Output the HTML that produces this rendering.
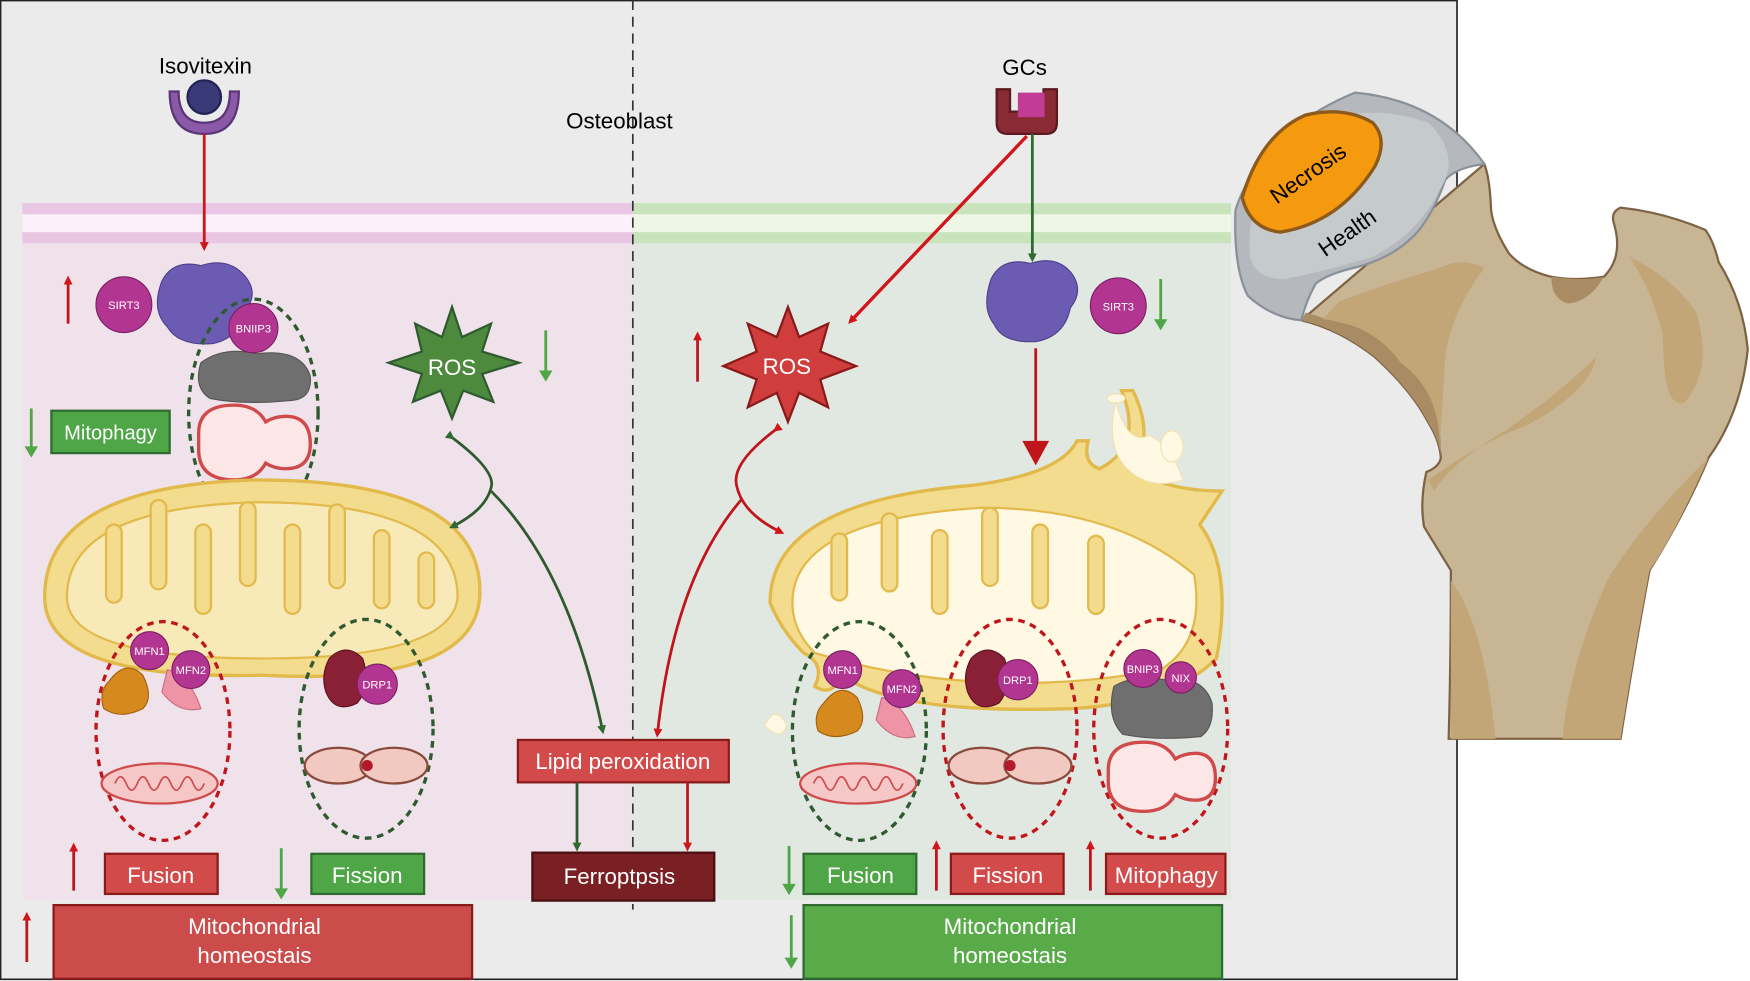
<!DOCTYPE html>
<html><head><meta charset="utf-8"><style>
html,body{margin:0;padding:0;background:#fff;width:1750px;height:981px;overflow:hidden}
svg{display:block}
text{font-family:"Liberation Sans",sans-serif}
</style></head><body>
<svg width="1750" height="981" viewBox="0 0 1568 879" xmlns="http://www.w3.org/2000/svg">
<defs>
<marker id="ar" markerWidth="8" markerHeight="8" refX="5" refY="4" orient="auto" markerUnits="userSpaceOnUse" viewBox="0 0 8 8"><path d="M0,0 L8,4 L0,8z" fill="#d0161b"/></marker>
<marker id="ag" markerWidth="8" markerHeight="8" refX="5" refY="4" orient="auto" markerUnits="userSpaceOnUse" viewBox="0 0 8 8"><path d="M0,0 L8,4 L0,8z" fill="#2f6a30"/></marker>
<g id="mitoS"><ellipse cx="0" cy="0" rx="52" ry="18" fill="#f6c7c7" stroke="#cf4b4b" stroke-width="2"/><path d="M-40,0 q5,-12 10,0 q5,12 10,0 q5,-12 10,0 q5,12 10,0 q5,-12 10,0 q5,12 10,0 q5,-12 10,0 q5,12 10,0" fill="none" stroke="#cf4b4b" stroke-width="1.5"/></g>
</defs>
<rect x="0.5" y="0.5" width="1305" height="877" fill="#ebebeb" stroke="#222" stroke-width="1.5"/>
<rect x="20" y="218" width="547" height="588" fill="#efe2ea"/>
<rect x="567" y="218" width="536" height="588" fill="#e1e8e1"/>
<rect x="20" y="182" width="547" height="36" fill="#e9c7e4"/>
<rect x="20" y="192" width="547" height="16" fill="#fcf1fa"/>
<rect x="567" y="182" width="536" height="36" fill="#c9e3bd"/>
<rect x="567" y="192" width="536" height="16" fill="#eef7e6"/>
<line x1="567" y1="0" x2="567" y2="815" stroke="#333" stroke-width="1.5" stroke-dasharray="9,6"/>
<text x="555" y="115" font-size="20" text-anchor="middle">Osteoblast</text>
<text x="184" y="66" font-size="20" text-anchor="middle">Isovitexin</text>
<text x="918" y="67" font-size="20" text-anchor="middle">GCs</text>
<path d="M152,82 q0,38 31,38 q31,0 31,-38 l-8,0 q0,28 -23,28 q-23,0 -23,-28z" fill="#8a5aa8" stroke="#5b3576" stroke-width="2"/>
<circle cx="183" cy="87" r="15" fill="#3b3a78" stroke="#222255" stroke-width="2"/>
<line x1="183" y1="120" x2="183" y2="222" stroke="#d0161b" stroke-width="2.5" marker-end="url(#ar)"/>
<path d="M893,80 h12 v20 h30 v-20 h12 v30 q0,10 -10,10 h-34 q-10,0 -10,-10z" fill="#8a2a35" stroke="#5a1a20" stroke-width="2"/>
<rect x="912" y="83" width="24" height="22" fill="#c23b95"/>
<line x1="925" y1="120" x2="925" y2="232" stroke="#2f6a30" stroke-width="2.5" marker-end="url(#ag)"/>
<line x1="920" y1="122" x2="762" y2="288" stroke="#d0161b" stroke-width="3" marker-end="url(#ar)"/>
<path d="M145,252 q10,-20 35,-14 q25,-8 40,10 q12,15 0,30 q-5,25 -30,30 q-30,2 -40,-15 q-15,-15 -5,-41z" fill="#6c5bb3" stroke="#4c3f8a"/>
<circle cx="111" cy="273" r="25" fill="#b23592" stroke="#7a1f62"/>
<text x="111" y="277" font-size="10" fill="#fff" text-anchor="middle">SIRT3</text>
<line x1="61" y1="290" x2="61" y2="250" stroke="#c0161b" stroke-width="2.5" marker-end="url(#ar)"/>
<ellipse cx="227" cy="370" rx="58" ry="102" fill="none" stroke="#2f5a30" stroke-width="3" stroke-dasharray="6,5"/>
<path d="M180,325 q20,-15 50,-8 q40,-5 48,20 q2,22 -20,22 q-40,4 -70,-2 q-15,-10 -8,-32z" fill="#6f6f6f" stroke="#555"/>
<circle cx="227" cy="294" r="22" fill="#b23592" stroke="#7a1f62"/>
<text x="227" y="298" font-size="10" fill="#fff" text-anchor="middle">BNIIP3</text>
<path d="M178,388 q0,-25 32,-25 q20,0 28,15 q8,-5 18,-5 q22,0 22,25 q0,22 -22,22 q-10,0 -18,-5 q-8,15 -28,15 q-32,0 -32,-27z" fill="#fde6e6" stroke="#cf4b4b" stroke-width="3"/>
<rect x="46" y="368" width="106" height="38" fill="#4ea646" stroke="#2f6a30" stroke-width="2"/>
<text x="99" y="394" font-size="18" fill="#fff" text-anchor="middle">Mitophagy</text>
<line x1="28" y1="366" x2="28" y2="408" stroke="#4ea646" stroke-width="2.5"/>
<path d="M22,400 l6,10 l6,-10z" fill="#4ea646"/>
<path d="M40,535 q0,-100 190,-105 q200,0 200,100 q0,85 -195,75 q-195,5 -195,-70z" fill="#f3dc8e" stroke="#e2b94b" stroke-width="3"/>
<path d="M60,535 q0,-80 170,-85 q180,0 180,85 q-5,55 -175,55 q-175,0 -175,-55z" fill="#f8e9b8" stroke="#e2b94b" stroke-width="2"/>
<g fill="#f3dc8e" stroke="#e2b94b" stroke-width="2">
<rect x="95" y="470" width="14" height="70" rx="7"/><rect x="135" y="448" width="14" height="80" rx="7"/><rect x="175" y="470" width="14" height="80" rx="7"/><rect x="215" y="450" width="14" height="75" rx="7"/><rect x="255" y="470" width="14" height="80" rx="7"/><rect x="295" y="452" width="14" height="75" rx="7"/><rect x="335" y="475" width="14" height="70" rx="7"/><rect x="375" y="495" width="14" height="50" rx="7"/>
</g>
<polygon points="405,275 414,302 440,290 432,315 465,325 432,335 442,360 415,350 405,375 395,350 370,360 378,335 348,325 378,315 372,290 396,302" fill="#4e8a3e" stroke="#2f5a30" stroke-width="2"/>
<text x="405" y="336" font-size="20" fill="#fff" text-anchor="middle">ROS</text>
<line x1="489" y1="296" x2="489" y2="340" stroke="#4ea646" stroke-width="2.5"/>
<path d="M483,332 l6,10 l6,-10z" fill="#4ea646"/>
<path d="M405,392 q40,30 35,45 q-5,20 -35,35" fill="none" stroke="#2f5a30" stroke-width="2.5" marker-start="url(#ag)" marker-end="url(#ag)"/>
<path d="M440,440 q70,70 100,215" fill="none" stroke="#2f5a30" stroke-width="2.5" marker-end="url(#ag)"/>
<ellipse cx="146" cy="655" rx="60" ry="98" fill="none" stroke="#c0161b" stroke-width="3" stroke-dasharray="6,5"/>
<path d="M98,610 q15,-20 30,-5 q10,20 0,30 q-20,10 -35,0 q-5,-15 5,-25z" fill="#d68a1e" stroke="#a35f10"/>
<path d="M150,600 q20,5 30,35 q-20,5 -35,-15z" fill="#ef93a6" stroke="#c96b7f"/>
<circle cx="134" cy="583" r="17" fill="#b23592" stroke="#7a1f62"/><text x="134" y="587" font-size="10" fill="#fff" text-anchor="middle">MFN1</text>
<circle cx="171" cy="600" r="17" fill="#b23592" stroke="#7a1f62"/><text x="171" y="604" font-size="10" fill="#fff" text-anchor="middle">MFN2</text>
<use href="#mitoS" x="143" y="702"/>
<ellipse cx="328" cy="653" rx="60" ry="98" fill="none" stroke="#2f5a30" stroke-width="3" stroke-dasharray="6,5"/>
<path d="M295,590 q15,-15 30,0 q8,25 -5,40 q-20,10 -28,-10 q-5,-15 3,-30z" fill="#8a2035" stroke="#5a1020"/>
<circle cx="338" cy="613" r="18" fill="#b23592" stroke="#7a1f62"/><text x="338" y="617" font-size="10" fill="#fff" text-anchor="middle">DRP1</text>
<ellipse cx="303" cy="686" rx="30" ry="16" fill="#f2c9c0" stroke="#8a4a3e" stroke-width="2"/>
<ellipse cx="353" cy="686" rx="30" ry="16" fill="#f2c9c0" stroke="#8a4a3e" stroke-width="2"/>
<circle cx="329" cy="686" r="5" fill="#b01a2a"/>
<rect x="94" y="765" width="101" height="36" fill="#d24a4a" stroke="#8a1a1a" stroke-width="2"/><text x="144" y="791" font-size="20" fill="#fff" text-anchor="middle">Fusion</text>
<line x1="66" y1="798" x2="66" y2="758" stroke="#c0161b" stroke-width="2.5" marker-end="url(#ar)"/>
<rect x="279" y="765" width="101" height="36" fill="#4ea646" stroke="#2f6a30" stroke-width="2"/><text x="329" y="791" font-size="20" fill="#fff" text-anchor="middle">Fission</text>
<line x1="252" y1="760" x2="252" y2="800" stroke="#4ea646" stroke-width="2.5"/><path d="M246,796 l6,10 l6,-10z" fill="#4ea646"/>
<rect x="48" y="811" width="375" height="66" fill="#cc4b4b" stroke="#8a1a1a" stroke-width="2"/>
<text x="228" y="837" font-size="20" fill="#fff" text-anchor="middle">Mitochondrial</text>
<text x="228" y="863" font-size="20" fill="#fff" text-anchor="middle">homeostais</text>
<line x1="24" y1="862" x2="24" y2="820" stroke="#c0161b" stroke-width="2.5" marker-end="url(#ar)"/>
<rect x="464" y="663" width="189" height="38" fill="#d24a4a" stroke="#8a1a1a" stroke-width="2"/><text x="558" y="689" font-size="20" fill="#fff" text-anchor="middle">Lipid peroxidation</text>
<line x1="517" y1="701" x2="517" y2="760" stroke="#2f5a30" stroke-width="2.5" marker-end="url(#ag)"/>
<line x1="616" y1="701" x2="616" y2="760" stroke="#c0161b" stroke-width="2.5" marker-end="url(#ar)"/>
<rect x="477" y="764" width="163" height="43" fill="#7a1f24" stroke="#4a0f12" stroke-width="2"/><text x="555" y="792" font-size="20" fill="#fff" text-anchor="middle">Ferroptpsis</text>
<polygon points="706,275 716,302 742,290 735,315 767,328 735,340 742,365 716,352 706,378 696,352 670,365 678,340 648,328 678,315 670,290 696,302" fill="#cf3d3d" stroke="#8a1a1a" stroke-width="2"/>
<text x="705" y="335" font-size="20" fill="#fff" text-anchor="middle">ROS</text>
<line x1="625" y1="342" x2="625" y2="300" stroke="#c0161b" stroke-width="2.5" marker-end="url(#ar)"/>
<path d="M695,385 q-40,30 -35,50 q5,25 40,42" fill="none" stroke="#c0161b" stroke-width="2.5" marker-start="url(#ar)" marker-end="url(#ar)"/>
<path d="M664,448 q-60,70 -75,210" fill="none" stroke="#c0161b" stroke-width="2.5" marker-end="url(#ar)"/>
<path d="M888,250 q10,-20 35,-14 q25,-8 38,10 q10,15 -2,30 q-5,25 -30,30 q-30,2 -38,-15 q-12,-15 -3,-41z" fill="#6c5bb3" stroke="#4c3f8a"/>
<circle cx="1002" cy="274" r="25" fill="#b23592" stroke="#7a1f62"/><text x="1002" y="278" font-size="10" fill="#fff" text-anchor="middle">SIRT3</text>
<line x1="1040" y1="250" x2="1040" y2="290" stroke="#4ea646" stroke-width="2.5"/><path d="M1034,286 l6,10 l6,-10z" fill="#4ea646"/>
<line x1="928" y1="312" x2="928" y2="410" stroke="#c0161b" stroke-width="2.5"/><path d="M916,395 l12,22 l12,-22z" fill="#c0161b"/>
<path d="M690,540 q0,-90 180,-105 q80,-10 95,-40 l10,0 q-5,20 10,25 q40,-20 20,-70 l10,0 q20,40 0,70 q30,20 80,20 q-10,15 -20,30 q30,40 15,120 q-40,40 -130,45 q-160,5 -205,-30 q-10,20 -25,10 q10,-20 -10,-30 q-20,-20 -30,-45z" fill="#f3dc8e" stroke="#e2b94b" stroke-width="3"/>
<path d="M710,540 q0,-75 170,-85 q120,0 190,60 q10,60 -30,85 q-160,30 -310,-15 q-20,-20 -20,-45z" fill="#fff8e3" stroke="#e2b94b" stroke-width="2"/>
<g fill="#f3dc8e" stroke="#e2b94b" stroke-width="2">
<rect x="745" y="478" width="14" height="60" rx="7"/><rect x="790" y="460" width="14" height="70" rx="7"/><rect x="835" y="475" width="14" height="75" rx="7"/><rect x="880" y="455" width="14" height="70" rx="7"/><rect x="925" y="470" width="14" height="75" rx="7"/><rect x="975" y="480" width="14" height="70" rx="7"/>
</g>
<path d="M1000,360 q10,40 30,30 q20,10 30,40 q-30,10 -50,-10 q-20,-20 -10,-60z" fill="#fff8e3" stroke="#f2e2b0"/>
<ellipse cx="1000" cy="357" rx="8" ry="4" fill="#fff8e3" stroke="#f2e2b0"/>
<ellipse cx="1050" cy="400" rx="10" ry="14" fill="#fff8e3" stroke="#f2e2b0"/>
<path d="M685,650 q10,-20 20,0 q-5,15 -20,0z" fill="#fff8e3" stroke="#f2e2b0"/>
<ellipse cx="770" cy="655" rx="60" ry="98" fill="none" stroke="#2f5a30" stroke-width="3" stroke-dasharray="6,5"/>
<path d="M738,630 q15,-20 30,-5 q10,20 0,30 q-20,10 -35,0 q-5,-15 5,-25z" fill="#d68a1e" stroke="#a35f10"/>
<path d="M790,625 q20,5 30,35 q-20,5 -35,-15z" fill="#ef93a6" stroke="#c96b7f"/>
<circle cx="755" cy="600" r="17" fill="#b23592" stroke="#7a1f62"/><text x="755" y="604" font-size="10" fill="#fff" text-anchor="middle">MFN1</text>
<circle cx="808" cy="617" r="17" fill="#b23592" stroke="#7a1f62"/><text x="808" y="621" font-size="10" fill="#fff" text-anchor="middle">MFN2</text>
<use href="#mitoS" x="769" y="702"/>
<ellipse cx="905" cy="653" rx="60" ry="98" fill="none" stroke="#c0161b" stroke-width="3" stroke-dasharray="6,5"/>
<path d="M870,590 q15,-15 30,0 q8,25 -5,40 q-20,10 -28,-10 q-5,-15 3,-30z" fill="#8a2035" stroke="#5a1020"/>
<circle cx="912" cy="609" r="18" fill="#b23592" stroke="#7a1f62"/><text x="912" y="613" font-size="10" fill="#fff" text-anchor="middle">DRP1</text>
<ellipse cx="880" cy="686" rx="30" ry="16" fill="#f2c9c0" stroke="#8a4a3e" stroke-width="2"/>
<ellipse cx="930" cy="686" rx="30" ry="16" fill="#f2c9c0" stroke="#8a4a3e" stroke-width="2"/>
<circle cx="905" cy="686" r="5" fill="#b01a2a"/>
<ellipse cx="1040" cy="653" rx="60" ry="98" fill="none" stroke="#c0161b" stroke-width="3" stroke-dasharray="6,5"/>
<path d="M998,615 q20,-12 50,-5 q30,-5 38,20 q2,22 -10,30 q-40,4 -70,-2 q-15,-15 -8,-43z" fill="#6f6f6f" stroke="#555"/>
<circle cx="1024" cy="599" r="17" fill="#b23592" stroke="#7a1f62"/><text x="1024" y="603" font-size="10" fill="#fff" text-anchor="middle">BNIP3</text>
<circle cx="1058" cy="607" r="14" fill="#b23592" stroke="#7a1f62"/><text x="1058" y="611" font-size="10" fill="#fff" text-anchor="middle">NIX</text>
<path d="M993,690 q0,-25 32,-25 q20,0 28,15 q8,-5 18,-5 q18,0 18,22 q0,20 -18,20 q-10,0 -18,-5 q-8,15 -28,15 q-32,0 -32,-27z" fill="#fde6e6" stroke="#cf4b4b" stroke-width="3"/>
<rect x="720" y="765" width="101" height="36" fill="#4ea646" stroke="#2f6a30" stroke-width="2"/><text x="771" y="791" font-size="20" fill="#fff" text-anchor="middle">Fusion</text>
<line x1="707" y1="758" x2="707" y2="796" stroke="#4ea646" stroke-width="2.5"/><path d="M701,792 l6,10 l6,-10z" fill="#4ea646"/>
<rect x="852" y="765" width="101" height="36" fill="#d24a4a" stroke="#8a1a1a" stroke-width="2"/><text x="903" y="791" font-size="20" fill="#fff" text-anchor="middle">Fission</text>
<line x1="839" y1="798" x2="839" y2="756" stroke="#c0161b" stroke-width="2.5" marker-end="url(#ar)"/>
<rect x="991" y="765" width="107" height="36" fill="#d24a4a" stroke="#8a1a1a" stroke-width="2"/><text x="1045" y="791" font-size="20" fill="#fff" text-anchor="middle">Mitophagy</text>
<line x1="977" y1="798" x2="977" y2="756" stroke="#c0161b" stroke-width="2.5" marker-end="url(#ar)"/>
<rect x="720" y="811" width="375" height="66" fill="#59ab49" stroke="#2f6a30" stroke-width="2"/>
<text x="905" y="837" font-size="20" fill="#fff" text-anchor="middle">Mitochondrial</text>
<text x="905" y="863" font-size="20" fill="#fff" text-anchor="middle">homeostais</text>
<line x1="709" y1="820" x2="709" y2="862" stroke="#4ea646" stroke-width="2.5"/><path d="M703,858 l6,10 l6,-10z" fill="#4ea646"/>
<!-- bone -->
<path d="M1166,287 Q1200,295 1232,320 Q1265,350 1280,379 Q1290,395 1291,410 Q1290,418 1278,423 Q1272,450 1276,472 Q1290,495 1300,511 Q1300,590 1298,662 L1452,662 Q1465,580 1478,511 Q1510,460 1531,410 Q1560,370 1566,313 Q1562,270 1540,235 Q1535,215 1528,206 Q1490,190 1452,186 Q1443,190 1446,200 Q1455,230 1437,248 Q1410,252 1390,248 Q1365,242 1352,227 Q1338,205 1336,188 Q1335,160 1330,147 Z" fill="#c8b594" stroke="#7d6244" stroke-width="2"/>
<path d="M1166,287 Q1200,295 1232,320 Q1265,350 1280,379 Q1290,395 1291,410 L1290,330 Q1260,300 1230,295 Q1200,290 1170,280z" fill="#a98c63"/>
<path d="M1185,286 Q1230,290 1255,325 Q1290,350 1290,400 L1295,320 Q1300,280 1330,240 Q1310,230 1290,240 Q1240,255 1200,270z" fill="#c2a678"/>
<path d="M1390,248 Q1420,252 1437,248 Q1425,270 1405,272 Q1390,268 1390,248z" fill="#a98c63"/>
<path d="M1280,430 Q1320,400 1370,380 Q1425,350 1430,320 Q1400,350 1350,385 Q1300,415 1285,440z" fill="#c2a678"/>
<path d="M1460,230 Q1500,250 1520,280 Q1535,330 1510,360 Q1490,370 1490,300 Q1480,260 1460,230z" fill="#c2a678"/>
<path d="M1300,520 Q1330,560 1340,662 L1300,662z M1400,662 Q1405,600 1440,520 Q1470,470 1531,410 Q1500,480 1478,511 Q1465,580 1452,662z" fill="#c2a678"/>
<path d="M1166,287 Q1140,285 1118,265 Q1105,240 1107,188 Q1130,118 1214,83 Q1290,90 1330,147 Q1305,150 1295,161 Q1285,190 1270,208 Q1250,230 1217,239 Q1190,245 1179,254 Q1170,270 1166,287z" fill="#b5b9be" stroke="#8a9098" stroke-width="2"/>
<path d="M1120,230 Q1115,170 1160,120 Q1220,88 1280,110 Q1310,140 1290,170 Q1270,210 1230,230 Q1180,245 1150,250 Q1125,250 1120,230z" fill="#c5cacc"/>
<path d="M1113,177 Q1120,205 1147,208 Q1200,200 1232,149 Q1244,125 1230,110 Q1205,95 1170,103 Q1130,120 1113,177z" fill="#f5990f" stroke="#8c5a1a" stroke-width="3"/>
<text x="1176" y="161" font-size="20" text-anchor="middle" transform="rotate(-35 1176 161)">Necrosis</text>
<text x="1211" y="214" font-size="20" text-anchor="middle" transform="rotate(-35 1211 214)">Health</text>
</svg>
</body></html>
